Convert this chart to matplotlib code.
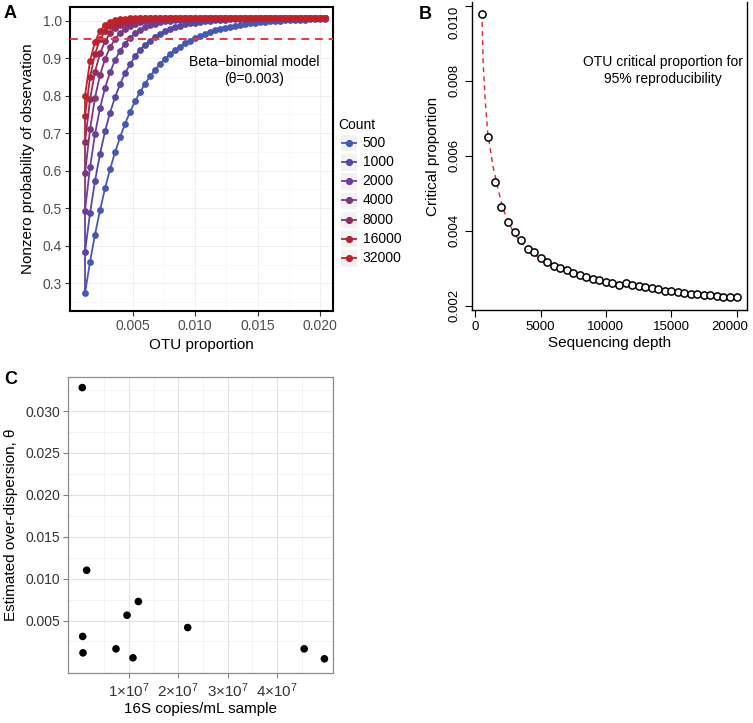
import matplotlib
matplotlib.use("Agg")
import matplotlib.pyplot as plt
import matplotlib.transforms as mtransforms
from matplotlib.lines import Line2D
from matplotlib.patches import Rectangle

plt.rcParams["font.family"] = ["Liberation Sans", "DejaVu Sans"]
plt.rcParams["mathtext.fontset"] = "custom"
plt.rcParams["mathtext.rm"] = "Liberation Sans"
plt.rcParams["mathtext.default"] = "regular"

W, H = 753, 723

# ---------------- panel A: nonzero probability vs OTU proportion ----------------
otu_prop = [0.0012, 0.0016, 0.0020, 0.0024, 0.0028, 0.0032, 0.0036, 0.0040, 0.0044, 0.0048,
            0.0052, 0.0056, 0.0060, 0.0064, 0.0068, 0.0072, 0.0076, 0.0080, 0.0084, 0.0088,
            0.0092, 0.0096, 0.0100, 0.0104, 0.0108, 0.0112, 0.0116, 0.0120, 0.0124, 0.0128,
            0.0132, 0.0136, 0.0140, 0.0144, 0.0148, 0.0152, 0.0156, 0.0160, 0.0164, 0.0168,
            0.0172, 0.0176, 0.0180, 0.0184, 0.0188, 0.0192, 0.0196, 0.0200, 0.0204]

counts = [500, 1000, 2000, 4000, 8000, 16000, 32000]

prob_500 = [0.274, 0.357, 0.430, 0.495, 0.553, 0.604, 0.649, 0.689, 0.725, 0.757,
            0.785, 0.810, 0.832, 0.852, 0.869, 0.885, 0.899, 0.911, 0.922, 0.931,
            0.940, 0.947, 0.954, 0.960, 0.965, 0.970, 0.974, 0.978, 0.981, 0.984,
            0.987, 0.989, 0.991, 0.993, 0.994, 0.996, 0.997, 0.998, 0.999, 1.000,
            1.001, 1.002, 1.002, 1.003, 1.003, 1.004, 1.004, 1.004, 1.005]
prob_1000 = [0.384, 0.487, 0.573, 0.645, 0.705, 0.755, 0.796, 0.831, 0.860, 0.884,
             0.905, 0.922, 0.936, 0.947, 0.957, 0.965, 0.972, 0.978, 0.983, 0.987,
             0.990, 0.993, 0.995, 0.997, 0.999, 1.000, 1.001, 1.002, 1.003, 1.004,
             1.004, 1.005, 1.005, 1.005, 1.006, 1.006, 1.006, 1.006, 1.006, 1.006,
             1.006, 1.006, 1.006, 1.006, 1.006, 1.006, 1.006, 1.006, 1.006]
prob_2000 = [0.494, 0.609, 0.698, 0.767, 0.821, 0.862, 0.895, 0.920, 0.939, 0.955,
             0.966, 0.975, 0.982, 0.988, 0.992, 0.996, 0.998, 1.000, 1.002, 1.003,
             1.004, 1.004, 1.005, 1.005, 1.006, 1.006, 1.006, 1.006, 1.006, 1.006,
             1.006, 1.006, 1.006, 1.006, 1.006, 1.006, 1.006, 1.006, 1.006, 1.006,
             1.006, 1.006, 1.006, 1.006, 1.006, 1.006, 1.006, 1.006, 1.006]
prob_4000 = [0.593, 0.710, 0.795, 0.855, 0.898, 0.929, 0.951, 0.967, 0.978, 0.986,
             0.992, 0.997, 0.999, 1.002, 1.003, 1.004, 1.005, 1.006, 1.006, 1.006,
             1.006, 1.006, 1.006, 1.006, 1.006, 1.006, 1.006, 1.006, 1.006, 1.006,
             1.006, 1.006, 1.006, 1.006, 1.006, 1.006, 1.006, 1.006, 1.006, 1.006,
             1.006, 1.006, 1.006, 1.006, 1.006, 1.006, 1.006, 1.006, 1.006]
prob_8000 = [0.677, 0.790, 0.864, 0.913, 0.945, 0.966, 0.980, 0.989, 0.995, 0.999,
             1.002, 1.004, 1.005, 1.006, 1.006, 1.006, 1.006, 1.006, 1.006, 1.006,
             1.006, 1.006, 1.006, 1.006, 1.006, 1.006, 1.006, 1.006, 1.006, 1.006,
             1.006, 1.006, 1.006, 1.006, 1.006, 1.006, 1.006, 1.006, 1.006, 1.006,
             1.006, 1.006, 1.006, 1.006, 1.006, 1.006, 1.006, 1.006, 1.006]
prob_16000 = [0.745, 0.849, 0.912, 0.950, 0.972, 0.986, 0.995, 0.999, 1.003, 1.004,
              1.005, 1.006, 1.006, 1.006, 1.006, 1.006, 1.006, 1.006, 1.006, 1.006,
              1.006, 1.006, 1.006, 1.006, 1.006, 1.006, 1.006, 1.006, 1.006, 1.006,
              1.006, 1.006, 1.006, 1.006, 1.006, 1.006, 1.006, 1.006, 1.006, 1.006,
              1.006, 1.006, 1.006, 1.006, 1.006, 1.006, 1.006, 1.006, 1.006]
prob_32000 = [0.800, 0.893, 0.944, 0.972, 0.988, 0.996, 1.001, 1.004, 1.005, 1.006,
              1.006, 1.006, 1.006, 1.006, 1.006, 1.006, 1.006, 1.006, 1.006, 1.006,
              1.006, 1.006, 1.006, 1.006, 1.006, 1.006, 1.006, 1.006, 1.006, 1.006,
              1.006, 1.006, 1.006, 1.006, 1.006, 1.006, 1.006, 1.006, 1.006, 1.006,
              1.006, 1.006, 1.006, 1.006, 1.006, 1.006, 1.006, 1.006, 1.006]

count_probs = [prob_500, prob_1000, prob_2000, prob_4000, prob_8000, prob_16000, prob_32000]
count_colors = ["#4758B4", "#5449A8", "#6C3F9A", "#7F377F", "#922D5E", "#AC253D", "#C42027"]

# ---------------- panel B: critical proportion vs depth ----------------
depth = [500, 1000, 1500, 2000, 2500, 3000, 3500, 4000, 4500, 5000,
         5500, 6000, 6500, 7000, 7500, 8000, 8500, 9000, 9500, 10000,
         10500, 11000, 11500, 12000, 12500, 13000, 13500, 14000, 14500, 15000,
         15500, 16000, 16500, 17000, 17500, 18000, 18500, 19000, 19500, 20000]
crit_prop = [0.00979, 0.00650, 0.00530, 0.00462, 0.00423, 0.00396, 0.00374, 0.00352, 0.00342, 0.00328,
             0.00317, 0.00306, 0.00301, 0.00294, 0.00287, 0.00281, 0.00276, 0.00271, 0.00267, 0.00263,
             0.00259, 0.00256, 0.00261, 0.00256, 0.00253, 0.00250, 0.00247, 0.00245, 0.00238, 0.00238,
             0.00236, 0.00234, 0.00232, 0.00230, 0.00229, 0.00227, 0.00225, 0.00224, 0.00223, 0.00222]
fit_depth = [500, 600, 750, 950, 1350, 1700, 2050, 2450, 3000, 3500, 4000,
             5000, 6000, 7000, 8000, 10000, 12000, 14000, 16000, 18000, 20000]
fit_prop = [0.00980, 0.00845, 0.00750, 0.00660, 0.00571, 0.00517, 0.00466, 0.00428, 0.00390, 0.00368, 0.00350,
            0.00324, 0.00303, 0.00289, 0.00278, 0.00262, 0.00250, 0.00241, 0.00233, 0.00227, 0.00221]

# ---------------- panel C: overdispersion vs 16S copies ----------------
copies = [0.53e6, 1.42e6, 0.61e6, 0.68e6, 7.36e6, 9.6e6, 10.8e6, 11.9e6, 21.9e6, 45.5e6, 49.6e6]
theta = [0.0328, 0.0110, 0.0031, 0.00114, 0.00162, 0.00563, 0.00055, 0.00727, 0.00416, 0.00162, 0.00043]


def fig_box(left, top, right, bottom):
    # pixel box -> figure fraction rect
    return [left / W, 1 - bottom / H, (right - left) / W, (bottom - top) / H]


def px(x, y):
    return x / W, 1 - y / H


fig = plt.figure(figsize=(W / 100, H / 100), dpi=100)

# ===== A =====
axA = fig.add_axes(fig_box(70, 6.7, 333, 311))
axA.set_xlim(0.0, 0.02102)
axA.set_ylim(0.2261, 1.0373)
axA.set_xticks([0.005, 0.010, 0.015, 0.020])
axA.set_xticklabels(["0.005", "0.010", "0.015", "0.020"])
axA.set_xticks([0.0025, 0.0075, 0.0125, 0.0175], minor=True)
axA.set_yticks([0.3, 0.4, 0.5, 0.6, 0.7, 0.8, 0.9, 1.0])
axA.set_yticklabels(["0.3", "0.4", "0.5", "0.6", "0.7", "0.8", "0.9", "1.0"])
axA.set_yticks([0.25, 0.35, 0.45, 0.55, 0.65, 0.75, 0.85, 0.95], minor=True)
axA.grid(which="major", color="#EDEDED", lw=0.6)
axA.grid(which="minor", color="#F6F6F6", lw=0.5)
axA.set_axisbelow(True)
axA.tick_params(which="major", length=3.5, width=0.8, color="#333333",
                labelcolor="#4D4D4D", labelsize=10, pad=2.5)
axA.tick_params(which="minor", length=0)
for sp in axA.spines.values():
    sp.set_linewidth(1.5)
    sp.set_color("black")

for k, (probs, col) in enumerate(zip(count_probs, count_colors)):
    xs = list(otu_prop)
    ys = list(probs)
    if k > 0:
        # model lines join at the first proportion
        xs = [otu_prop[0]] + xs
        ys = [count_probs[k - 1][0]] + ys
    axA.plot(xs, ys, color=col, lw=1.3, zorder=2)
for probs, col in zip(count_probs, count_colors):
    axA.plot(otu_prop, probs, "o", color=col, ms=4.9, mec="none", zorder=3)

axA.axhline(0.95, color="#E4393C", lw=1.4, ls=(0, (4, 3)), zorder=4)
axA.text(0.0147, 0.8676, "Beta\u2212binomial model\n(\u03b8=0.003)", ha="center", va="center",
         fontsize=10, linespacing=1.25, zorder=5)
axA.set_xlabel("OTU proportion", fontsize=11, labelpad=3)
axA.set_ylabel("Nonzero probability of observation", fontsize=11, labelpad=5)

# legend, ggplot-style keys
fig.text(*px(338.5, 125), "Count", fontsize=10, ha="left", va="center")
for i, (c, col) in enumerate(zip(counts, count_colors)):
    yc = 142.7 + i * 19.2
    x0, y0 = px(340, yc + 8.6)
    fig.add_artist(Rectangle((x0, y0), 17 / W, 17.2 / H, transform=fig.transFigure,
                             facecolor="#F2F2F2", edgecolor="white", lw=0.8))
    xa, ya = px(341.5, yc)
    xb, _ = px(355.5, yc)
    fig.add_artist(Line2D([xa, xb], [ya, ya], transform=fig.transFigure, color=col, lw=1.3))
    xm, _ = px(348.5, yc)
    fig.add_artist(Line2D([xm], [ya], transform=fig.transFigure, marker="o", ms=5.2,
                          color=col, mec="none"))
    fig.text(*px(362.5, yc), str(c), fontsize=10, ha="left", va="center")

# ===== B =====
axB = fig.add_axes(fig_box(471.7, 2.3, 746.7, 310))
axB.set_xlim(-280, 20780)
axB.set_ylim(0.00188, 0.01009)
axB.plot(fit_depth, fit_prop, color="#D9262B", lw=1.0, ls=(0, (3.5, 3)), zorder=2)
axB.plot(depth, crit_prop, "o", mfc="white", mec="black", mew=1.1, ms=5.2, zorder=3)
axB.set_xticks([0, 5000, 10000, 15000, 20000])
axB.set_xticklabels(["0", "5000", "10000", "15000", "20000"])
axB.set_yticks([0.002, 0.004, 0.006, 0.008, 0.010])
axB.set_yticklabels(["0.002", "0.004", "0.006", "0.008", "0.010"])
axB.tick_params(length=5, width=0.8, color="black", labelsize=9.5, pad=3)
axB.tick_params(axis="y", labelrotation=90, pad=3)
for lab in axB.get_yticklabels():
    lab.set_va("center")
axB.get_yticklabels()[-1].set_va("top")
# keep the last depth label inside the figure
last_lab = axB.get_xticklabels()[-1]
last_lab.set_transform(last_lab.get_transform() +
                       mtransforms.ScaledTranslation(-7 / 100, 0, fig.dpi_scale_trans))
axB.spines["top"].set_visible(False)
for s in ["left", "bottom", "right"]:
    axB.spines[s].set_linewidth(1.0)
axB.set_xlabel("Sequencing depth", fontsize=11, labelpad=2)
axB.set_ylabel("Critical proportion", fontsize=11, labelpad=6)
axB.text(14372, 0.008276, "OTU critical proportion for\n95% reproducibility", ha="center",
         va="center", fontsize=10, linespacing=1.25)

# ===== C =====
axC = fig.add_axes(fig_box(68.3, 376.7, 333.3, 673.3))
axC.set_xlim(-2.3e6, 51.4e6)
axC.set_ylim(-0.0013, 0.0341)
axC.scatter(copies, theta, s=30, color="black", edgecolors="none", zorder=3)
axC.set_xticks([1e7, 2e7, 3e7, 4e7])
axC.set_xticklabels(["1\u00d710$^{7}$", "2\u00d710$^{7}$", "3\u00d710$^{7}$", "4\u00d710$^{7}$"])
axC.set_xticks([0.5e7, 1.5e7, 2.5e7, 3.5e7, 4.5e7], minor=True)
axC.set_yticks([0.005, 0.010, 0.015, 0.020, 0.025, 0.030])
axC.set_yticklabels(["0.005", "0.010", "0.015", "0.020", "0.025", "0.030"])
axC.set_yticks([0.0025, 0.0075, 0.0125, 0.0175, 0.0225, 0.0275, 0.0325], minor=True)
axC.grid(which="major", color="#E3E3E3", lw=0.8)
axC.grid(which="minor", color="#F1F1F1", lw=0.6)
axC.set_axisbelow(True)
axC.tick_params(which="major", length=3.5, width=0.8, color="#7F7F7F",
                labelcolor="#333333", labelsize=10, pad=2.5)
axC.tick_params(which="minor", length=0)
for lab in axC.get_xticklabels():
    lab.set_fontsize(11)
for sp in axC.spines.values():
    sp.set_color("#8C8C8C")
    sp.set_linewidth(0.9)
axC.set_xlabel("16S copies/mL sample", fontsize=11, labelpad=1)
axC.set_ylabel("Estimated over-dispersion, \u03b8", fontsize=11, labelpad=5)

# panel letters
fig.text(*px(10.5, 14), "A", fontsize=13, fontweight="bold", ha="center", va="center")
fig.text(*px(425, 14.5), "B", fontsize=13, fontweight="bold", ha="center", va="center")
fig.text(*px(10.5, 379), "C", fontsize=13, fontweight="bold", ha="center", va="center")

fig.savefig("out.png", dpi=100)
